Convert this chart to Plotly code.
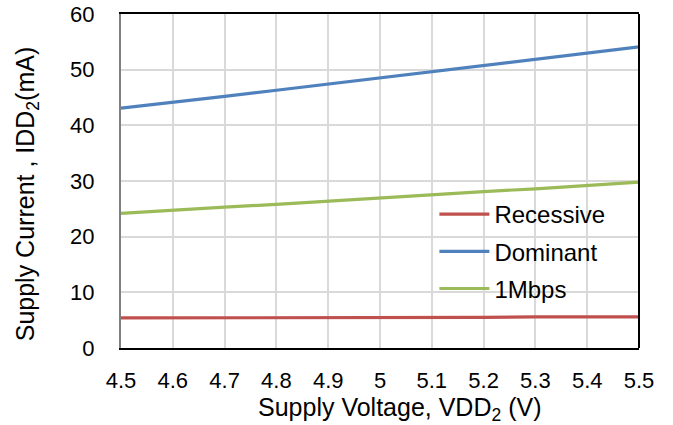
import plotly.graph_objects as go

# Supply voltage sweep (V)
vdd2 = [4.5, 4.6, 4.7, 4.8, 4.9, 5.0, 5.1, 5.2, 5.3, 5.4, 5.5]

# Supply current IDD2 (mA) for each bus state
recessive = [5.4, 5.4, 5.4, 5.4, 5.5, 5.5, 5.5, 5.5, 5.6, 5.6, 5.6]
dominant = [43.1, 44.1, 45.2, 46.3, 47.4, 48.5, 49.6, 50.7, 51.8, 52.9, 54.1]
mbps1 = [24.2, 24.8, 25.3, 25.8, 26.4, 26.9, 27.5, 28.1, 28.6, 29.2, 29.8]

x_ticks = [4.5, 4.6, 4.7, 4.8, 4.9, 5.0, 5.1, 5.2, 5.3, 5.4, 5.5]
x_tick_text = ["4.5", "4.6", "4.7", "4.8", "4.9", "5", "5.1", "5.2", "5.3", "5.4", "5.5"]
y_ticks = [0, 10, 20, 30, 40, 50, 60]

x_title = "Supply Voltage, VDD<sub>2</sub> (V)"
y_title = "Supply Current , IDD<sub>2</sub>(mA)"

FONT = "Arial, 'Liberation Sans', sans-serif"
TICK = 22
LEG = 24
TITLE = 25

fig = go.Figure()
for name, ys, color in [
    ("Recessive", recessive, "#C0504D"),
    ("Dominant", dominant, "#4F81BD"),
    ("1Mbps", mbps1, "#9BBB59"),
]:
    fig.add_trace(go.Scatter(x=vdd2, y=ys, mode="lines", name=name,
                             legendgroup=name,
                             line=dict(color=color, width=3.2)))

fig.update_layout(
    width=673, height=425,
    margin=dict(l=121, r=34, t=14, b=77),
    paper_bgcolor="white", plot_bgcolor="white",
    font=dict(family=FONT, size=TICK, color="black"),
    showlegend=True,
    legend=dict(x=0.605, y=0.467, xanchor="left", yanchor="top",
                bgcolor="rgba(0,0,0,0)", font=dict(family=FONT, size=LEG),
                tracegroupgap=3, itemwidth=50),
    xaxis=dict(range=[4.5, 5.5], tickvals=x_ticks, ticktext=x_tick_text,
               tickfont=dict(family=FONT, size=TICK), automargin=False,
               showgrid=True, gridcolor="#d9d9d9", gridwidth=2,
               showline=True, linecolor="black", linewidth=2, mirror=True,
               ticks="outside", ticklen=12, tickcolor="rgba(0,0,0,0)",
               zeroline=False),
    yaxis=dict(range=[0, 60], tickvals=y_ticks,
               tickfont=dict(family=FONT, size=TICK), automargin=False,
               showgrid=True, gridcolor="#d9d9d9", gridwidth=2,
               showline=True, linecolor="#808080", linewidth=2,
               ticks="outside", ticklen=20, tickcolor="rgba(0,0,0,0)",
               zeroline=False),
)

# Axis titles placed as paper-anchored annotations
fig.add_annotation(text=x_title, xref="paper", yref="paper", x=0.539, y=-0.183,
                   xanchor="center", yanchor="middle", showarrow=False,
                   font=dict(family=FONT, size=TITLE, color="black"))
fig.add_annotation(text=y_title, xref="paper", yref="paper", x=-0.181, y=0.461,
                   xanchor="center", yanchor="middle", showarrow=False, textangle=-90,
                   font=dict(family=FONT, size=TITLE, color="black"))

# Black frame edge on the right side of the plot area
fig.add_shape(type="line", xref="paper", yref="paper", x0=1, x1=1, y0=0, y1=1,
              line=dict(color="black", width=2))

fig.write_html("out.html")
